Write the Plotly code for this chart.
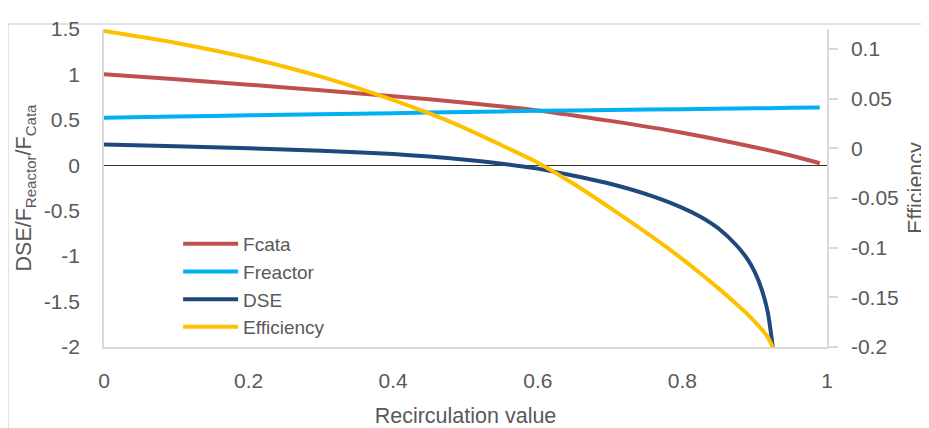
import plotly.graph_objects as go

# ---- data ----
x_f = [0, 0.1, 0.2, 0.3, 0.4, 0.5, 0.6, 0.7, 0.8, 0.9, 0.95, 0.99]
fcata = [1.003, 0.946, 0.887, 0.826, 0.761, 0.689, 0.604, 0.489, 0.359, 0.199, 0.107, 0.023]
freactor = [0.523, 0.537, 0.55, 0.561, 0.573, 0.587, 0.599, 0.609, 0.618, 0.627, 0.632, 0.636]

x_d = [0, 0.1, 0.2, 0.3, 0.4, 0.45, 0.5, 0.55, 0.6, 0.65, 0.7, 0.75, 0.8, 0.825,
       0.85, 0.875, 0.89, 0.9, 0.91, 0.918, 0.925]
dse = [0.229, 0.209, 0.187, 0.161, 0.123, 0.096, 0.061, 0.018, -0.037, -0.115, -0.203,
       -0.318, -0.468, -0.566, -0.696, -0.883, -1.033, -1.173, -1.373, -1.613, -2.0]
efficiency = [0.118, 0.106, 0.091, 0.072, 0.0485, 0.035, 0.02, 0.003, -0.0145, -0.036,
              -0.06, -0.085, -0.1115, -0.126, -0.141, -0.157, -0.167, -0.1745, -0.1825,
              -0.19, -0.2]

x_ticks = [0, 0.2, 0.4, 0.6, 0.8, 1]
y1_ticks = [1.5, 1, 0.5, 0, -0.5, -1, -1.5, -2]
y2_ticks = [0.1, 0.05, 0, -0.05, -0.1, -0.15, -0.2]

FONT = "Liberation Sans, Arial, sans-serif"
GRAY = "#595959"
AXIS = "#D9D9D9"

fig = go.Figure()
fig.add_trace(go.Scatter(x=x_f, y=fcata, name="Fcata", mode="lines",
                         line=dict(color="#C0504D", width=4, shape="spline", smoothing=0.8)))
fig.add_trace(go.Scatter(x=x_f, y=freactor, name="Freactor", mode="lines",
                         line=dict(color="#00B0F0", width=4, shape="spline", smoothing=0.8)))
fig.add_trace(go.Scatter(x=x_d, y=dse, name="DSE", mode="lines",
                         line=dict(color="#1F497D", width=4, shape="spline", smoothing=0.7)))
fig.add_trace(go.Scatter(x=x_d, y=efficiency, name="Efficiency", mode="lines", yaxis="y2",
                         line=dict(color="#FFC000", width=4, shape="spline", smoothing=0.6)))

# the page body adds an 8px offset; the figure is sized to compensate
fig.update_layout(
    width=921, height=420,
    margin=dict(l=96, r=102, t=21, b=81, autoexpand=False),
    paper_bgcolor="white", plot_bgcolor="white",
    font=dict(family=FONT, size=21, color=GRAY),
    showlegend=True,
    legend=dict(x=0.1025, y=0.384, xanchor="left", yanchor="top",
                bgcolor="rgba(0,0,0,0)", font=dict(size=19, color=GRAY),
                tracegroupgap=0, itemwidth=55),
    xaxis=dict(range=[0, 1], tickvals=x_ticks, ticktext=[str(v) for v in x_ticks],
               showgrid=False, zeroline=False, showline=True, linecolor=AXIS, linewidth=1.5,
               ticks="", ticklabelstandoff=14,
               title=dict(text="Recirculation value", standoff=18, font=dict(size=21.5))),
    yaxis=dict(range=[-2, 1.5], tickvals=y1_ticks, ticktext=[str(v) for v in y1_ticks],
               showgrid=False, zeroline=True, zerolinecolor="#333333", zerolinewidth=1.3,
               showline=True, linecolor=AXIS, linewidth=1.5, ticks="", ticklabelstandoff=18,
               title=dict(text="DSE/F<sub>Reactor</sub>/F<sub>Cata</sub>", standoff=6,
                          font=dict(size=21.5))),
    yaxis2=dict(range=[-0.2, 0.12], tickvals=y2_ticks, ticktext=[str(v) for v in y2_ticks],
                overlaying="y", side="right", showgrid=False, zeroline=False,
                showline=True, linecolor=AXIS, linewidth=1.5,
                ticks="outside", ticklen=9, tickcolor=AXIS, tickwidth=1.5,
                ticklabelstandoff=9,
                title=dict(text="Efficiency", standoff=10, font=dict(size=21.5))),
    shapes=[dict(type="rect", xref="paper", yref="paper",
                 x0=-0.1328, x1=1.16, y0=-0.3, y1=1.0157,
                 line=dict(color=AXIS, width=1.5), fillcolor="rgba(0,0,0,0)", layer="below")],
)

fig.write_html("out.html")
